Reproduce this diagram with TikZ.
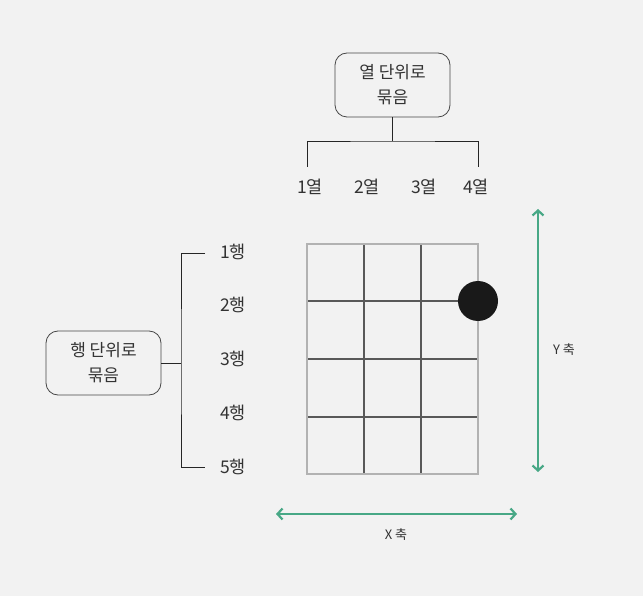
\documentclass[tikz,border=0pt]{standalone}
\usepackage{fontspec}
\setmainfont{Noto Sans CJK KR}
\usetikzlibrary{arrows.meta,positioning}
\definecolor{bggray}{RGB}{242,242,242}
\definecolor{inkgray}{RGB}{51,51,51}
\definecolor{axisgreen}{RGB}{72,168,134}
\tikzset{
    %Define style for group boxes
    groupbox/.style={
           rectangle,
           rounded corners=12pt,
           draw=inkgray!90, line width=0.8pt,
           minimum width=115pt,
           minimum height=64pt,
           align=center,
           font=\fontsize{17}{25}\selectfont,
           text=inkgray},
    %Define style for row/column labels
    lbl/.style={
           font=\fontsize{17.5}{20}\selectfont,
           text=inkgray,
           inner sep=0pt},
    axislbl/.style={
           font=\fontsize{13}{15}\selectfont,
           text=inkgray,
           inner sep=0pt},
    % Define line styles
    bracket/.style={line width=0.9pt, draw=black!85},
    gridline/.style={line width=1.3pt, draw=black!65},
    gridframe/.style={line width=1.5pt, draw=black!30},
    axis/.style={
           {Straight Barb[length=5pt,width=11pt]}-{Straight Barb[length=5pt,width=11pt]},
           line width=2.2pt,
           draw=axisgreen}
}
\begin{document}
\begin{tikzpicture}[x=1pt,y=-1pt]
\fill[bggray] (0,0) rectangle (643,596);
\useasboundingbox (0,0) rectangle (643,596);

% column grouping
\node[groupbox] (colbox) at (392.5,85) {열 단위로\\묶음};
\coordinate (ctop) at (392.5,141);
\coordinate (cl) at (307,167);
\coordinate (cr) at (478,167);
\draw[bracket] (colbox.south) -- (ctop);
\draw[bracket] (cl) |- (ctop) -| (cr);
\node[lbl] (c1) at (310,187) {1열};
\node[lbl] (c2) at (367,187) {2열};
\node[lbl] (c3) at (424,187) {3열};
\node[lbl] (c4) at (476,187) {4열};

% row grouping
\node[groupbox] (rowbox) at (103.5,363) {행 단위로\\묶음};
\coordinate (rmid) at (181,363);
\coordinate (rtop) at (205,253);
\coordinate (rbot) at (205,467);
\draw[bracket] (rowbox.east) -- (rmid);
\draw[bracket] (rtop) -| (rmid) |- (rbot);
\node[lbl] (r1) at (233,252) {1행};
\node[lbl] (r2) at (233,305) {2행};
\node[lbl] (r3) at (233,359) {3행};
\node[lbl] (r4) at (233,413) {4행};
\node[lbl] (r5) at (233,467) {5행};

% grid
\foreach \x in {364,421}
    \draw[gridline] (\x,244) -- (\x,474);
\foreach \y in {301,359,417}
    \draw[gridline] (307,\y) -- (478,\y);
\draw[gridframe] (307,244) rectangle (478,474);
\node[circle, fill=black!90, minimum size=40pt, inner sep=0pt] (dot) at (478,301) {};

% axes
\coordinate (ytop) at (538,209);
\coordinate (ybot) at (538,472);
\draw[axis] (ytop) -- (ybot);
\node[axislbl] (ylbl) at (564,350) {Y 축};
\coordinate (xleft) at (276,514);
\coordinate (xright) at (517,514);
\draw[axis] (xleft) -- (xright);
\node[axislbl] (xlbl) at (396,535) {X 축};
\end{tikzpicture}
\end{document}
